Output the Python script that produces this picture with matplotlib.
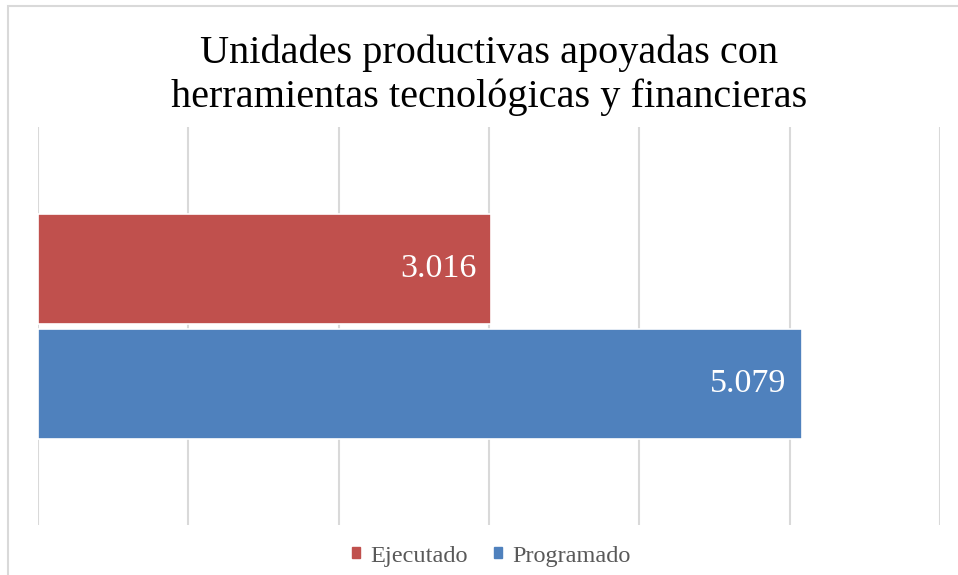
import numpy as np
import matplotlib.pyplot as plt
from matplotlib.patches import Rectangle

# data
series = ['Ejecutado', 'Programado']
values = [3016, 5079]
labels = ['3.016', '5.079']
colors = ['#C0504D', '#4F81BD']
title_lines = ['Unidades productivas apoyadas con',
               'herramientas tecnológicas y financieras']

plt.rcParams['font.family'] = ['Liberation Serif', 'DejaVu Serif']

fig = plt.figure(figsize=(9.58, 5.75), dpi=100)
# outer chart border (light gray)
fig.patches.append(Rectangle((8 / 958, -0.01), 1.0, 1.0 - 6 / 575 + 0.01,
                             transform=fig.transFigure, fill=False,
                             edgecolor='#d9d9d9', linewidth=1.5))

ax = fig.add_axes([38 / 958, 1 - 525 / 575, (940 - 38) / 958, (525 - 127) / 575])

# Programado at bottom, Ejecutado on top
ypos = [1, 0]
for y, v, lab, c in zip(ypos, values, labels, colors):
    ax.barh(y, v, height=0.96, color=c, edgecolor='white', linewidth=1.2, zorder=3)
    ax.text(v - 100, y, lab, ha='right', va='center', color='white',
            fontsize=24.5, zorder=4)

ax.set_xlim(0, 6000)
ax.set_ylim(-1.23, 2.24)
ax.set_xticks(np.arange(0, 6001, 1000))
ax.set_yticks([])
ax.tick_params(axis='x', length=0, labelbottom=False)
ax.grid(axis='x', color='#d9d9d9', linewidth=1.5, zorder=0)
for s in ax.spines.values():
    s.set_visible(False)

# title, one text per line so the baselines sit where the reference has them
for line, base in zip(title_lines, [63, 107]):
    fig.text(489 / 958, 1 - base / 575, line, ha='center', va='baseline',
             fontsize=29, color='black')

# legend
handles = [Rectangle((0, 0), 1, 1, color=c) for c in colors]
fig.legend(handles, series, loc='center', bbox_to_anchor=(0.513, 0.033), ncol=2,
           frameon=False, fontsize=17.5, labelcolor='#595959',
           handlelength=0.33, handleheight=0.33, handletextpad=0.4,
           columnspacing=1.1)

fig.savefig('out.png', dpi=100)
